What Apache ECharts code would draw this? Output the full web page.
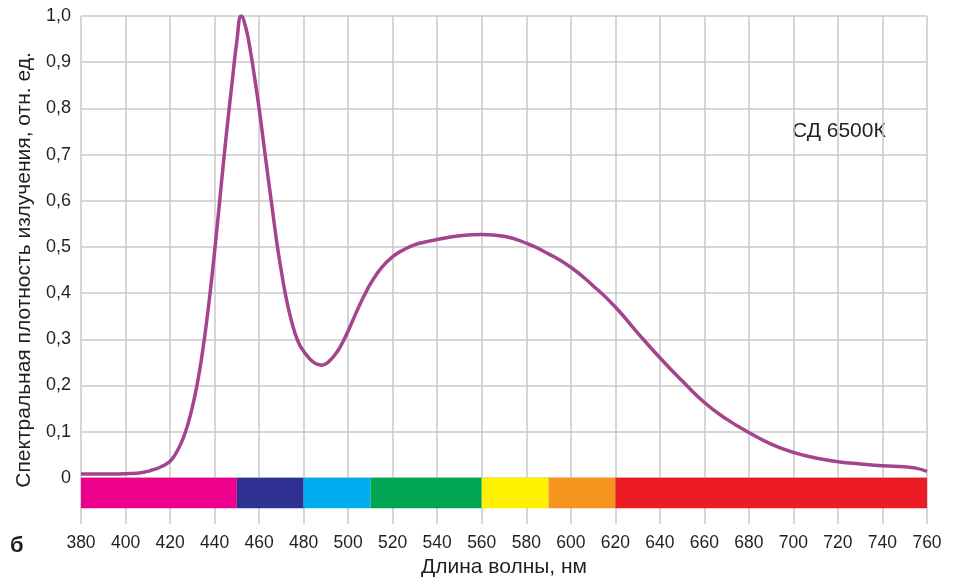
<!DOCTYPE html>
<html>
<head>
<meta charset="utf-8">
<script src="https://cdn.jsdelivr.net/npm/echarts@6/dist/echarts.min.js"></script>
<style>
    html, body {margin: 0; padding: 0; background: #fff;}
    #chart {width: 957px; height: 578px;}
</style>
</head>
<body>
<div id="chart"></div>
<script>
// Wavelength, nm and relative spectral power
const wavelengths = [380, 390, 400, 405,
    410, 412, 414, 416, 418, 420, 422, 424, 426, 428, 430, 432, 434, 436, 438, 440, 442, 444, 446, 448,
    450, 452, 454, 456, 458, 460, 462, 464, 466, 468, 470, 472, 474, 476, 478, 480, 482, 484, 486, 488,
    490, 492, 494, 496, 498, 500, 502, 504, 506, 508, 510,
    515, 520, 525, 530, 535, 540, 550, 560, 570, 580, 590, 600, 610, 620, 630, 640, 650, 660, 670, 680,
    690, 700, 710, 720, 730, 740, 750, 755, 760];
const intensity = [0.008, 0.008, 0.009, 0.010,
    0.014, 0.017, 0.020, 0.024, 0.029, 0.036, 0.048, 0.065, 0.087, 0.116, 0.153, 0.198, 0.254, 0.322, 0.401, 0.490, 0.585, 0.683, 0.775, 0.862,
    0.945, 1.0, 0.975, 0.927, 0.866, 0.800, 0.726, 0.652, 0.580, 0.508, 0.447, 0.393, 0.350, 0.315, 0.290, 0.274, 0.262, 0.252, 0.246, 0.244,
    0.247, 0.255, 0.266, 0.280, 0.298, 0.318, 0.340, 0.362, 0.383, 0.402, 0.420,
    0.455, 0.479, 0.494, 0.505, 0.511, 0.516, 0.524, 0.527, 0.523, 0.508, 0.485, 0.456, 0.416, 0.370, 0.314, 0.260, 0.210, 0.163, 0.127, 0.098,
    0.073, 0.055, 0.043, 0.035, 0.030, 0.026, 0.024, 0.021, 0.014];

// Colour strip of the visible spectrum
const bandEdges = [380, 450, 480, 510, 560, 590, 620, 760];
const bandColors = ['#ec008c', '#2e3192', '#00aeef', '#00a651', '#fff200', '#f7941d', '#ed1c24'];
const bandBottom = -0.066;

const gridColor = '#c9c9cc';
const textColor = '#231f20';
const fontFamily = '"Liberation Sans", Arial, sans-serif';

let points = wavelengths.map((w, i) => [w, intensity[i]]);

let bands = [];
for (let i = 0; i < bandColors.length; i++) {
    bands.push([
        {xAxis: bandEdges[i], yAxis: 0, itemStyle: {color: bandColors[i]}},
        {xAxis: bandEdges[i + 1], yAxis: bandBottom}
    ]);
}

let myChart = echarts.init(document.getElementById('chart'), null, {renderer: 'canvas'});

let option = {
    animation: false,
    textStyle: {fontFamily: fontFamily, color: textColor},
    grid: {left: 81, right: 30, top: 16, bottom: 54, outerBoundsMode: 'none'},
    xAxis: {
        type: 'value',
        min: 380,
        max: 760,
        interval: 20,
        name: 'Длина волны, нм',
        nameLocation: 'middle',
        nameGap: 31,
        nameTextStyle: {fontSize: 21, color: textColor, fontFamily: fontFamily},
        axisLine: {show: false},
        axisTick: {show: false},
        axisLabel: {fontSize: 17.5, color: textColor, margin: 10, fontFamily: fontFamily},
        splitLine: {show: true, lineStyle: {color: gridColor, width: 1.5}}
    },
    yAxis: {
        type: 'value',
        min: -0.1,
        max: 1.0,
        interval: 0.1,
        name: 'Спектральная плотность излучения, отн. ед.',
        nameLocation: 'middle',
        nameRotate: 90,
        nameGap: 46,
        nameTextStyle: {fontSize: 21, color: textColor, fontFamily: fontFamily},
        axisLine: {show: false},
        axisTick: {show: false},
        axisLabel: {
            fontSize: 18,
            color: textColor,
            margin: 10,
            fontFamily: fontFamily,
            formatter: function (v) {
                if (v < -0.05) return '';
                if (Math.abs(v) < 1e-9) return '0';
                return v.toFixed(1).replace('.', ',');
            }
        },
        splitLine: {show: true, showMinLine: false, lineStyle: {color: gridColor, width: 1.5}}
    },
    graphic: [
        {
            type: 'text',
            left: 792,
            top: 121,
            style: {text: 'СД 6500К', fontSize: 21, fill: textColor, fontFamily: fontFamily}
        },
        {
            type: 'text',
            left: 10,
            top: 535,
            style: {text: 'б', fontSize: 22, fontWeight: 'bold', fill: textColor, fontFamily: fontFamily}
        }
    ],
    series: [
        {
            type: 'line',
            data: points,
            smooth: 0.5,
            showSymbol: false,
            lineStyle: {color: '#a4448c', width: 3.5},
            markArea: {silent: true, data: bands},
            z: 3
        }
    ]
};

myChart.setOption(option);
</script>
</body>
</html>
